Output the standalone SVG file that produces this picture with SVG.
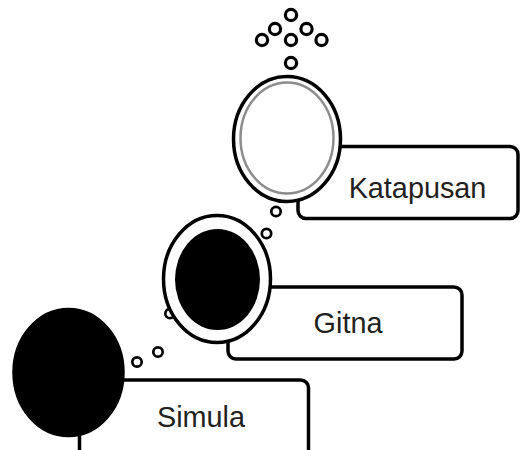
<svg xmlns="http://www.w3.org/2000/svg" width="520" height="450" viewBox="0 0 520 450">
<defs>
<style>
.box{fill:#fff;stroke:#000;stroke-width:3.5}
.ring{fill:#fff;stroke:#000;stroke-width:3.5}
.dot{fill:#fff;stroke:#000;stroke-width:3.2}
.sdot{fill:#fff;stroke:#000;stroke-width:2.7}
.lbl{font-family:"Liberation Sans",Arial,sans-serif;font-size:28.8px;fill:#231f20;text-anchor:middle}
</style>
<filter id="soft" x="-10%" y="-10%" width="120%" height="120%"><feGaussianBlur stdDeviation="0.7"/></filter>
</defs>
<g id="connectors">
<circle class="dot" cx="262" cy="40" r="5.6"/>
<circle class="dot" cx="275" cy="29" r="5.6"/>
<circle class="dot" cx="291" cy="15" r="5.6"/>
<circle class="dot" cx="306.5" cy="29" r="5.6"/>
<circle class="dot" cx="321.5" cy="40" r="5.6"/>
<circle class="dot" cx="291" cy="40" r="5.6"/>
<circle class="dot" cx="291" cy="63" r="5.6"/>
<circle class="sdot" cx="276" cy="211.5" r="4.7"/>
<circle class="sdot" cx="266.5" cy="233.5" r="4.7"/>
<circle class="sdot" cx="170" cy="313.5" r="4.7"/>
<circle class="sdot" cx="158" cy="352" r="4.7"/>
<circle class="sdot" cx="137" cy="362" r="4.7"/>
</g>
<g id="katapusan">
<rect class="box" x="298" y="146.5" width="220" height="72" rx="8"/>
<ellipse class="ring" cx="287" cy="139" rx="53.5" ry="62.5"/>
<ellipse cx="287" cy="138" rx="46.5" ry="55.5" fill="none" stroke="#8c8c8c" stroke-width="2.5"/>
<text class="lbl" x="417.5" y="198">Katapusan</text>
</g>
<g id="gitna">
<rect class="box" x="228" y="287" width="234" height="72" rx="8"/>
<ellipse class="ring" cx="217" cy="279" rx="53.5" ry="63.5"/>
<ellipse cx="217.5" cy="279.5" rx="42.5" ry="50.5" fill="#000" filter="url(#soft)"/>
<text class="lbl" x="348" y="333">Gitna</text>
</g>
<g id="simula">
<rect class="box" x="79.5" y="380" width="229" height="90" rx="8"/>
<ellipse cx="68.5" cy="372.5" rx="55.5" ry="64" fill="#000" stroke="#000" stroke-width="1.5"/>
<text class="lbl" x="201" y="427">Simula</text>
</g>
</svg>
